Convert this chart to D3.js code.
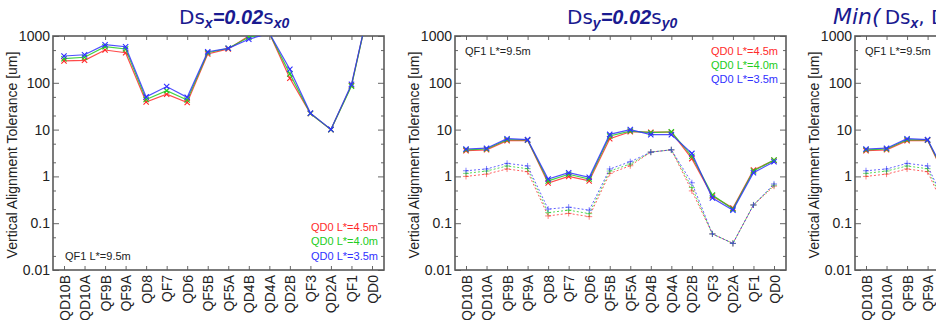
<!DOCTYPE html>
<html lang="en">
<head>
    <meta charset="UTF-8">
    <title>Vertical Alignment Tolerance</title>
    <script src="https://d3js.org/d3.v7.min.js"></script>
    <style>
        body{
            margin: 0;
            background: #fff;
        }
        svg{
            display: block;
            font-family: "Liberation Sans", Arial, sans-serif;
        }
        .tick text{
            font-size: 14px;
            fill: #222;
        }
    </style>
</head>
<body>
<svg id="canvas" width="936" height="320"></svg>

<script>
    // magnet names along the x axis
    const categories = ["QD10B","QD10A","QF9B","QF9A","QD8","QF7","QD6","QF5B","QF5A","QD4B","QD4A","QD2B","QF3","QD2A","QF1","QD0"];

    // log axis ticks
    const yTickValues = [0.01, 0.1, 1, 10, 100, 1000];
    const yTickLabels = ["0.01", "0.1", "1", "10", "100", "1000"];
    const yMinorTicks = [0.02, 0.05, 0.2, 0.5, 2, 5, 20, 50, 200, 500];

    const legendLabels = ["QD0 L*=4.5m", "QD0 L*=4.0m", "QD0 L*=3.5m"];
    const qf1Label = "QF1 L*=9.5m";
    const yLabel = "Vertical Alignment Tolerance [um]";

    // panel 1: Ds_x = 0.02 s_x0
    const dsxRed   = [293, 302, 502, 440, 39, 57, 38, 412, 530, 1000, 1150, 125, 22, 10, 88, 8000];
    const dsxGreen = [327, 351, 590, 528, 44, 68, 43, 440, 546, 940, 1150, 155, 22, 10, 85, 8000];
    const dsxBlue  = [374, 398, 653, 590, 50, 83, 49, 462, 546, 850, 1150, 195, 22.5, 10.1, 93, 8000];

    // panel 2: Ds_y = 0.02 s_y0 (solid)
    const dsyRed   = [3.55, 3.7, 5.8, 5.9, 0.72, 1.0, 0.80, 6.4, 9.0, 8.8, 8.8, 2.4, 0.38, 0.21, 1.37, 2.2];
    const dsyGreen = [3.7, 3.85, 6.1, 6.0, 0.80, 1.11, 0.88, 7.3, 9.3, 8.6, 9.0, 2.7, 0.40, 0.20, 1.3, 2.24];
    const dsyBlue  = [3.85, 4.0, 6.4, 6.1, 0.88, 1.2, 0.96, 7.9, 10, 7.8, 7.8, 3.1, 0.345, 0.19, 1.2, 2.06];

    // panel 2: dotted set
    const dsyRedDot   = [1.0, 1.12, 1.44, 1.26, 0.143, 0.162, 0.138, 1.16, 1.69, 3.3, 3.7, 0.49, 0.059, 0.037, 0.245, 0.62];
    const dsyGreenDot = [1.16, 1.30, 1.67, 1.46, 0.168, 0.19, 0.16, 1.3, 1.84, 3.3, 3.7, 0.58, 0.059, 0.037, 0.245, 0.65];
    const dsyBlueDot  = [1.32, 1.44, 1.9, 1.67, 0.20, 0.22, 0.19, 1.44, 2.06, 3.3, 3.7, 0.73, 0.059, 0.037, 0.245, 0.69];

    const colors = ["#ff2a2a", "#22cc22", "#3030ff"];
    const titleColor = "#1a1a90";

    const plotTop = 36, plotBottom = 270, plotW = 331;

    const panels = [
        {
            x0: 53, titleX: 179,
            title: [{t:"Ds"},{t:"x",sub:1,bi:1},{t:"=0.02",bi:1},{t:"s"},{t:"x0",sub:1,bi:1}],
            solid: [dsxRed, dsxGreen, dsxBlue], dotted: null,
            legendX: 325, legendY: [227, 241, 256], qf1X: 12, qf1Y: 256
        },
        {
            x0: 455, titleX: 567,
            title: [{t:"Ds"},{t:"y",sub:1,bi:1},{t:"=0.02",bi:1},{t:"s"},{t:"y0",sub:1,bi:1}],
            solid: [dsyRed, dsyGreen, dsyBlue], dotted: [dsyRedDot, dsyGreenDot, dsyBlueDot],
            legendX: 323, legendY: [51, 65, 79], qf1X: 10, qf1Y: 51
        },
        {
            x0: 855, titleX: 833,
            title: [{t:"Min(",it:1},{t:"Ds",dx:4},{t:"x",sub:1,bi:1},{t:", "},{t:"Ds"},{t:"y",sub:1,bi:1},{t:")",it:1}],
            solid: [dsyRed, dsyGreen, dsyBlue], dotted: [dsyRedDot, dsyGreenDot, dsyBlueDot],
            legendX: 323, legendY: [51, 65, 79], qf1X: 10, qf1Y: 51
        }
    ];

    const svg = d3.select("#canvas");
    const y = d3.scaleLog().domain([0.01, 1000]).range([plotBottom, plotTop]);

    panels.forEach((p, pi) => drawPanel(p, pi));

    function drawPanel(p, pi) {
        const x0 = p.x0, x1 = p.x0 + plotW;
        const x = d3.scalePoint().domain(categories).range([x0 + 11, x0 + 319]);
        const g = svg.append("g");

        // title with subscripts
        const title = g.append("text")
            .attr("x", p.titleX).attr("y", 23.5)
            .attr("fill", titleColor)
            .style("font-size", "20px");
        let down = false;
        p.title.forEach(part => {
            const ts = title.append("tspan").text(part.t);
            if (part.sub && !down) { ts.attr("dy", 4.5); down = true; }
            else if (!part.sub && down) { ts.attr("dy", -4.5); down = false; }
            if (part.dx) ts.attr("dx", part.dx);
            if (part.sub) ts.style("font-size", "14px");
            if (part.bi) ts.style("font-weight", "bold").style("font-style", "italic");
            else ts.style("font-family", "'DejaVu Sans', sans-serif");
            if (part.it) ts.style("font-style", "italic").style("font-size", "22px");
        });

        // clip
        const clipId = "clip" + pi;
        g.append("clipPath").attr("id", clipId)
            .append("rect").attr("x", x0).attr("y", plotTop).attr("width", plotW).attr("height", plotBottom - plotTop);

        // y axes, ticks pointing inwards
        const yMajor = d3.axisLeft(y).tickValues(yTickValues)
            .tickFormat((d, i) => yTickLabels[i]).tickSize(-6).tickPadding(3);
        g.append("g").attr("transform", `translate(${x0},0)`).call(yMajor);
        g.append("g").attr("transform", `translate(${x0},0)`)
            .call(d3.axisLeft(y).tickValues(yMinorTicks).tickFormat("").tickSize(-3));
        g.append("g").attr("transform", `translate(${x1},0)`)
            .call(d3.axisRight(y).tickValues(yTickValues).tickFormat("").tickSize(-6));
        g.append("g").attr("transform", `translate(${x1},0)`)
            .call(d3.axisRight(y).tickValues(yMinorTicks).tickFormat("").tickSize(-3));

        // x axes
        const xb = g.append("g").attr("transform", `translate(0,${plotBottom})`)
            .call(d3.axisBottom(x).tickSize(-4));
        xb.selectAll("text")
            .attr("transform", "rotate(-90)")
            .attr("x", -5).attr("y", 0).attr("dy", "0.36em")
            .style("text-anchor", "end");
        g.append("g").attr("transform", `translate(0,${plotTop})`)
            .call(d3.axisTop(x).tickSize(-4).tickFormat(""));

        g.selectAll(".domain").remove();
        g.selectAll(".tick line").attr("stroke", "#666");

        // frame
        g.append("rect")
            .attr("x", x0).attr("y", plotTop).attr("width", plotW).attr("height", plotBottom - plotTop)
            .attr("fill", "none").attr("stroke", "#5a5a5a").attr("stroke-width", 1.6);

        // y label
        g.append("text")
            .attr("transform", `translate(${x0 - 36},155) rotate(-90)`)
            .attr("text-anchor", "middle")
            .attr("fill", "#222")
            .style("font-size", "14px")
            .text(yLabel);

        // data
        const line = d3.line().x((d, i) => x(categories[i])).y(d => y(d));
        const data = g.append("g").attr("clip-path", `url(#${clipId})`);

        if (p.dotted) {
            p.dotted.forEach((s, k) => {
                data.append("path").attr("d", line(s))
                    .attr("fill", "none").attr("stroke", colors[k])
                    .attr("stroke-width", 1).attr("stroke-dasharray", "2,2")
                    .attr("stroke-opacity", 0.75);
                data.selectAll(null).data(s).enter().append("path")
                    .attr("d", d3.symbol().type(d3.symbolPlus).size(14)())
                    .attr("transform", (d, i) => `translate(${x(categories[i])},${y(d)})`)
                    .attr("fill", "none").attr("stroke", colors[k]).attr("stroke-width", 0.8)
                    .attr("stroke-opacity", 0.75);
            });
        }

        p.solid.forEach((s, k) => {
            data.append("path").attr("d", line(s))
                .attr("fill", "none").attr("stroke", colors[k])
                .attr("stroke-width", 1.2).attr("stroke-opacity", 0.85);
            data.selectAll(null).data(s).enter().append("path")
                .attr("d", d3.symbol().type(d3.symbolTimes).size(20)())
                .attr("transform", (d, i) => `translate(${x(categories[i])},${y(d)})`)
                .attr("fill", "none").attr("stroke", colors[k]).attr("stroke-width", 1.1);
        });

        // legend
        legendLabels.forEach((lab, k) => {
            g.append("text")
                .attr("x", x0 + p.legendX).attr("y", p.legendY[k]).attr("dy", "0.35em")
                .attr("text-anchor", "end")
                .attr("fill", colors[k])
                .style("font-size", "11px")
                .text(lab);
        });
        g.append("text")
            .attr("x", x0 + p.qf1X).attr("y", p.qf1Y).attr("dy", "0.35em")
            .attr("fill", "#222")
            .style("font-size", "11px")
            .text(qf1Label);
    }
</script>
</body>
</html>
